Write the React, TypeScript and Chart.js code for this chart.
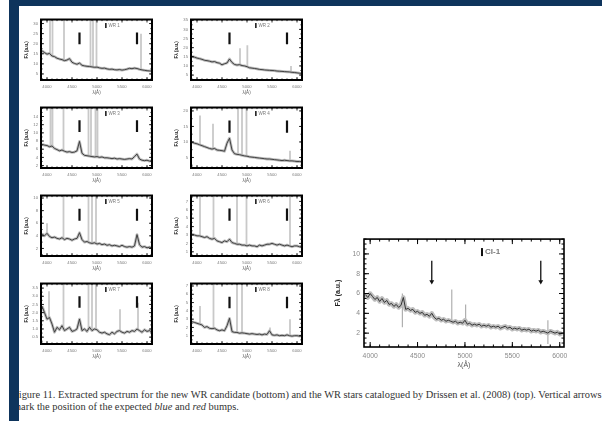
import React, { useEffect, useRef } from "react";
import { Chart, registerables } from "chart.js";

Chart.register(...registerables);

// ---------- shared axes ----------
const WL_SMALL = [3900, 3950, 4000, 4050, 4100, 4150, 4200, 4250, 4300, 4350, 4400, 4450, 4500, 4550, 4600, 4650, 4700, 4750, 4800, 4850, 4900, 4950, 5000, 5050, 5100, 5150, 5200, 5250, 5300, 5350, 5400, 5450, 5500, 5550, 5600, 5650, 5700, 5750, 5800, 5850, 5900, 5950, 6000, 6050, 6100];
const X_TICKS = [4000, 4500, 5000, 5500, 6000];
const SMALL_X_RANGE = [3880, 6100];
const ARROW_WL = [4650, 5800];

// ---------- panel 1 ----------
const P1_FLUX = [16.5, 15.6, 14.8, 15.2, 13.9, 13.6, 12.8, 12.4, 12.1, 11.6, 11.9, 12.6, 10.8, 10.2, 9.8, 10.4, 9.3, 9.0, 8.8, 8.7, 8.5, 8.3, 8.4, 8.0, 7.8, 7.9, 7.5, 7.3, 7.4, 7.1, 7.0, 7.2, 6.9, 7.1, 7.4, 7.8, 7.6, 7.9, 7.7, 7.3, 7.0, 6.8, 6.6, 6.5, 6.4];
const P1_Y_RANGE = [2, 32];
const P1_Y_TICKS = [5, 10, 15, 20, 25, 30];
const P1_SKY = [4060, 4110, 4340, 4870, 4920, 4990, 5880];
const P1_SKY_TOP = [32, 32, 32, 32, 32, 32, 25];
const P1_ARROW = [25.6, 19.7];

// ---------- panel 2 ----------
const P2_FLUX = [15.2, 14.8, 14.3, 14.0, 13.6, 13.1, 12.9, 12.6, 12.2, 12.4, 11.8, 11.5, 10.6, 11.2, 11.6, 13.8, 11.9, 10.8, 10.5, 10.7, 10.2, 10.0, 9.6, 9.0, 8.8, 8.6, 8.4, 8.1, 8.0, 7.8, 7.7, 7.6, 7.5, 7.4, 7.2, 7.1, 7.0, 6.9, 6.8, 6.7, 6.5, 6.4, 6.2, 6.0, 5.9];
const P2_Y_RANGE = [2.3, 35.4];
const P2_Y_TICKS = [5, 10, 15, 20, 25, 30, 35];
const P2_SKY = [4860, 5007, 5880];
const P2_SKY_TOP = [19.7, 21.3, 10];
const P2_ARROW = [28.3, 21.8];

// ---------- panel 3 ----------
const P3_FLUX = [7.2, 7.0, 6.9, 6.6, 6.8, 6.2, 5.9, 5.6, 5.8, 5.5, 5.3, 5.4, 5.2, 5.3, 5.6, 7.9, 5.0, 4.5, 4.4, 4.3, 4.2, 4.1, 4.2, 4.0, 4.1, 3.9, 3.9, 3.8, 3.7, 3.8, 3.6, 3.7, 3.6, 3.5, 3.6, 3.7, 3.6, 4.2, 4.8, 3.6, 3.3, 3.2, 3.3, 3.1, 3.2];
const P3_Y_RANGE = [1.4, 16.2];
const P3_Y_TICKS = [2, 4, 6, 8, 10, 12, 14];
const P3_SKY = [4070, 4110, 4330, 4830, 4880, 4970, 5010];
const P3_SKY_TOP = [16.2, 16.2, 16.2, 16.2, 16.2, 16.2, 16.2];
const P3_ARROW = [13.1, 10.2];

// ---------- panel 4 ----------
const P4_FLUX = [9.9, 9.6, 9.4, 9.1, 8.8, 8.5, 8.2, 7.9, 7.7, 7.9, 7.4, 7.3, 7.2, 7.0, 9.6, 11.2, 7.4, 6.2, 6.0, 5.9, 5.7, 5.5, 5.4, 5.2, 5.1, 5.0, 4.9, 4.8, 4.7, 4.6, 4.5, 4.5, 4.4, 4.3, 4.2, 4.1, 4.0, 4.1, 4.0, 3.9, 3.9, 3.8, 3.7, 3.7, 3.6];
const P4_Y_RANGE = [1.6, 21.1];
const P4_Y_TICKS = [5, 10, 15, 20];
const P4_SKY = [4060, 4320, 4820, 4900, 4990, 5860];
const P4_SKY_TOP = [18.5, 15.9, 21.1, 21.1, 21.1, 7.2];
const P4_ARROW = [16.9, 13.0];

// ---------- panel 5 ----------
const P5_FLUX = [4.3, 4.0, 4.4, 3.9, 3.7, 3.8, 3.6, 3.5, 3.7, 3.4, 3.6, 3.5, 3.3, 3.5, 3.6, 4.5, 3.4, 3.0, 3.1, 2.9, 2.8, 2.9, 2.7, 2.8, 2.6, 2.7, 2.5, 2.6, 2.4, 2.5, 2.4, 2.3, 2.5, 2.3, 2.2, 2.3, 2.2, 2.4, 4.2, 2.6, 2.2, 2.3, 2.1, 2.2, 2.1];
const P5_Y_RANGE = [0.8, 10.4];
const P5_Y_TICKS = [2, 4, 6, 8, 10];
const P5_SKY = [4000, 4330, 4830, 4900, 4980];
const P5_SKY_TOP = [6, 10.4, 10.4, 10.4, 10.4];
const P5_ARROW = [8.3, 6.4];

// ---------- panel 6 ----------
const P6_FLUX = [3.1, 3.0, 2.9, 2.9, 2.8, 2.7, 2.8, 2.6, 2.5, 2.6, 2.3, 2.2, 2.1, 2.3, 2.2, 2.5, 2.1, 2.0, 1.9, 1.9, 1.8, 1.8, 1.7, 1.8, 1.7, 1.7, 1.6, 1.8, 1.7, 1.8, 1.9, 1.9, 2.0, 1.9, 1.8, 1.9, 1.8, 1.7, 1.8, 1.7, 1.6, 1.7, 1.7, 1.6, 1.7];
const P6_Y_RANGE = [0.5, 7.7];
const P6_Y_TICKS = [1, 2, 3, 4, 5, 6, 7];
const P6_SKY = [4060, 4330, 4800, 4990, 5860];
const P6_SKY_TOP = [7.7, 7.7, 7.7, 7.7, 7.7];
const P6_ARROW = [6.15, 4.7];

// ---------- panel 7 ----------
const P7_FLUX = [2.4, 2.0, 1.6, 1.7, 1.3, 0.8, 1.1, 0.95, 1.2, 0.9, 1.0, 1.1, 0.85, 0.9, 1.0, 1.6, 0.9, 1.0, 0.85, 1.1, 0.9, 1.0, 0.95, 0.8, 0.75, 0.8, 0.7, 0.65, 0.8, 0.7, 0.85, 0.9, 0.8, 0.75, 0.85, 0.8, 0.9, 0.85, 1.0, 0.9, 0.8, 0.95, 0.85, 0.9, 0.8];
const P7_Y_RANGE = [0.08, 3.78];
const P7_Y_TICKS = [0.5, 1.0, 1.5, 2.0, 2.5, 3.0, 3.5];
const P7_SKY = [4040, 4330, 4830, 4900, 4980, 5460, 5820];
const P7_SKY_TOP = [3.3, 3.78, 3.78, 3.78, 3.78, 2.2, 2.6];
const P7_ARROW = [3.0, 2.3];

// ---------- panel 8 ----------
const P8_FLUX = [2.7, 2.6, 2.5, 2.4, 2.3, 2.0, 2.1, 1.9, 1.85, 1.9, 1.7, 1.6, 1.7, 1.6, 2.2, 3.1, 1.5, 1.4, 1.4, 1.3, 1.35, 1.3, 1.25, 1.2, 1.25, 1.2, 1.15, 1.2, 1.1, 1.2, 1.15, 1.6, 1.1, 1.05, 1.1, 1.0, 1.05, 1.0, 1.1, 1.0, 0.95, 1.0, 1.0, 0.95, 1.0];
const P8_Y_RANGE = [0, 7.3];
const P8_Y_TICKS = [1, 2, 3, 4, 5, 6, 7];
const P8_SKY = [4060, 4330, 4800, 4900, 5460, 5860];
const P8_SKY_TOP = [4.6, 7.3, 7.3, 7.3, 2.0, 3.0];
const P8_ARROW = [5.7, 4.3];

// ---------- big panel (new candidate) ----------
const WL_BIG = [3950, 3975, 4000, 4025, 4050, 4075, 4100, 4125, 4150, 4175, 4200, 4225, 4250, 4275, 4300, 4325, 4350, 4375, 4400, 4425, 4450, 4475, 4500, 4525, 4550, 4575, 4600, 4625, 4650, 4675, 4700, 4725, 4750, 4775, 4800, 4825, 4850, 4875, 4900, 4925, 4950, 4975, 5000, 5025, 5050, 5075, 5100, 5125, 5150, 5175, 5200, 5225, 5250, 5275, 5300, 5325, 5350, 5375, 5400, 5425, 5450, 5475, 5500, 5525, 5550, 5575, 5600, 5625, 5650, 5675, 5700, 5725, 5750, 5775, 5800, 5825, 5850, 5875, 5900, 5925, 5950, 5975, 6000, 6025];
const BIG_FLUX = [5.9, 5.6, 6.0, 5.7, 5.4, 5.6, 5.2, 5.5, 5.1, 5.3, 4.9, 5.0, 4.7, 4.9, 4.6, 4.8, 5.6, 4.4, 4.5, 4.3, 4.4, 4.1, 4.2, 4.0, 4.1, 3.8, 3.9, 3.7, 4.0, 3.6, 3.4, 3.5, 3.3, 3.4, 3.2, 3.3, 3.2, 3.1, 3.2, 3.0, 3.1, 3.0, 3.3, 2.9, 3.0, 2.8, 2.9, 2.8, 2.9, 2.7, 2.8, 2.7, 2.8, 2.6, 2.7, 2.6, 2.7, 2.5, 2.6, 2.7, 2.5, 2.6, 2.4, 2.5, 2.4, 2.5, 2.3, 2.4, 2.3, 2.4, 2.2, 2.3, 2.2, 2.3, 2.1, 2.2, 2.1, 2.0, 2.2, 2.1, 2.0, 2.1, 1.9, 2.0];
const BIG_X_RANGE = [3935, 6045];
const BIG_Y_RANGE = [0.6, 11.5];
const BIG_Y_TICKS = [2, 4, 6, 8, 10];
const BIG_LINE_WL = [4340, 4861, 5007, 5875];
const BIG_LINE_LO = [2.6, 3.0, 3.0, 0.9];
const BIG_LINE_HI = [6.0, 6.4, 4.9, 3.3];
const BIG_ARROW = [9.3, 7.2];

const CAPTION_1 = "Figure 11. Extracted spectrum for the new WR candidate (bottom) and the WR stars catalogued by Drissen et al. (2008) (top). Vertical arrows";
const CAPTION_2A = "mark the position of the expected ";

// ---------- layout ----------
const COL_X = [41, 191];
const ROW_Y = [19, 107, 195, 283];

type Spec = {
  big: boolean;
  label: string;
  wl: number[];
  flux: number[];
  xRange: number[];
  yRange: number[];
  yTicks: number[];
  lineWl: number[];
  lineLo: number[] | null;
  lineHi: number[];
  arrow: number[];
  yDecimals: number;
  minorY: number;
  cx: number; cy: number; cw: number; ch: number;
  yAxisW: number; xAxisH: number; padTop: number; padRight: number;
};

const SMALL = { yAxisW: 17, xAxisH: 15, padTop: 5, padRight: 5, plotW: 111, plotH: 61 };

function small(label: string, col: number, row: number, flux: number[], yRange: number[], yTicks: number[], sky: number[], skyTop: number[], arrow: number[], yDecimals = 0): Spec {
  const step = yTicks[1] - yTicks[0];
  return {
    big: false, label, wl: WL_SMALL, flux, xRange: SMALL_X_RANGE, yRange, yTicks,
    lineWl: sky, lineLo: null, lineHi: skyTop, arrow, yDecimals, minorY: step / 2,
    cx: COL_X[col] - SMALL.yAxisW, cy: ROW_Y[row] - SMALL.padTop,
    cw: SMALL.yAxisW + SMALL.plotW + SMALL.padRight, ch: SMALL.padTop + SMALL.plotH + SMALL.xAxisH,
    yAxisW: SMALL.yAxisW, xAxisH: SMALL.xAxisH, padTop: SMALL.padTop, padRight: SMALL.padRight,
  };
}

const SPECS: Spec[] = [
  small("WR 1", 0, 0, P1_FLUX, P1_Y_RANGE, P1_Y_TICKS, P1_SKY, P1_SKY_TOP, P1_ARROW),
  small("WR 2", 1, 0, P2_FLUX, P2_Y_RANGE, P2_Y_TICKS, P2_SKY, P2_SKY_TOP, P2_ARROW),
  small("WR 3", 0, 1, P3_FLUX, P3_Y_RANGE, P3_Y_TICKS, P3_SKY, P3_SKY_TOP, P3_ARROW),
  small("WR 4", 1, 1, P4_FLUX, P4_Y_RANGE, P4_Y_TICKS, P4_SKY, P4_SKY_TOP, P4_ARROW),
  small("WR 5", 0, 2, P5_FLUX, P5_Y_RANGE, P5_Y_TICKS, P5_SKY, P5_SKY_TOP, P5_ARROW),
  small("WR 6", 1, 2, P6_FLUX, P6_Y_RANGE, P6_Y_TICKS, P6_SKY, P6_SKY_TOP, P6_ARROW),
  small("WR 7", 0, 3, P7_FLUX, P7_Y_RANGE, P7_Y_TICKS, P7_SKY, P7_SKY_TOP, P7_ARROW, 1),
  small("WR 8", 1, 3, P8_FLUX, P8_Y_RANGE, P8_Y_TICKS, P8_SKY, P8_SKY_TOP, P8_ARROW),
  {
    big: true, label: "CI-1", wl: WL_BIG, flux: BIG_FLUX, xRange: BIG_X_RANGE, yRange: BIG_Y_RANGE, yTicks: BIG_Y_TICKS,
    lineWl: BIG_LINE_WL, lineLo: BIG_LINE_LO, lineHi: BIG_LINE_HI, arrow: BIG_ARROW, yDecimals: 0, minorY: 0.5,
    cx: 364 - 30, cy: 239 - 8, cw: 30 + 200 + 9, ch: 8 + 108 + 22,
    yAxisW: 30, xAxisH: 22, padTop: 8, padRight: 9,
  },
];

const framePlugin = {
  id: "frame",
  afterDraw(chart: any, _args: any, o: any) {
    const { ctx, chartArea: a } = chart;
    const xs = chart.scales.x;
    const ys = chart.scales.y;
    ctx.save();
    ctx.strokeStyle = "#000";
    ctx.lineWidth = o.tickW;
    ctx.beginPath();
    const xt = (v: number, len: number) => {
      const p = xs.getPixelForValue(v);
      ctx.moveTo(p, a.bottom); ctx.lineTo(p, a.bottom - len);
      ctx.moveTo(p, a.top); ctx.lineTo(p, a.top + len);
    };
    const yt = (v: number, len: number) => {
      const p = ys.getPixelForValue(v);
      ctx.moveTo(a.left, p); ctx.lineTo(a.left + len, p);
      ctx.moveTo(a.right, p); ctx.lineTo(a.right - len, p);
    };
    for (let v = Math.ceil(xs.min / o.minorX) * o.minorX; v <= xs.max; v += o.minorX) xt(v, o.minorLen);
    for (let v = Math.ceil(ys.min / o.minorY) * o.minorY; v <= ys.max + 1e-9; v += o.minorY) yt(v, o.minorLen);
    xs.ticks.forEach((t: any) => xt(t.value, o.majorLen));
    ys.ticks.forEach((t: any) => yt(t.value, o.majorLen));
    ctx.stroke();
    ctx.lineWidth = o.frameW;
    ctx.strokeRect(a.left, a.top, a.width, a.height);
    if (o.label) {
      ctx.font = o.labelFont;
      ctx.textBaseline = "middle";
      const lx = a.left + a.width * o.labelX;
      const ly = a.top + o.labelDy;
      ctx.fillStyle = "#111";
      ctx.fillRect(lx - o.markW - 1, ly - o.markH / 2, o.markW, o.markH);
      ctx.fillStyle = "#777";
      ctx.fillText(o.label, lx + 1, ly);
    }
    ctx.restore();
  },
};

function nearestFlux(wl: number[], flux: number[], w: number) {
  let bi = 0;
  wl.forEach((v, i) => { if (Math.abs(v - w) < Math.abs(wl[bi] - w)) bi = i; });
  return flux[bi];
}

function makeConfig(s: Spec): any {
  const big = s.big;
  const specPts = s.wl.map((w, i) => ({ x: w, y: s.flux[i] }));
  const linePts: any[] = [];
  s.lineWl.forEach((w, i) => {
    const lo = s.lineLo ? s.lineLo[i] : nearestFlux(s.wl, s.flux, w);
    linePts.push({ x: w, y: lo }, { x: w, y: s.lineHi[i] }, { x: w, y: null });
  });
  const arrowPts: any[] = [];
  ARROW_WL.forEach((w) => arrowPts.push({ x: w, y: s.arrow[0] }, { x: w, y: s.arrow[1] }, { x: w, y: null }));

  const datasets: any[] = [
    { label: "arrows", data: arrowPts, borderColor: "#111", borderWidth: big ? 1.3 : 2.2, pointRadius: 0, order: 0, spanGaps: false },
    { label: "spectrum", data: specPts, borderColor: "#333", borderWidth: big ? 1 : 0.9, pointRadius: 0, order: 1, borderJoinStyle: "round" },
    { label: "noise", data: specPts, borderColor: "#bdbdbd", borderWidth: big ? 4.5 : 2.8, pointRadius: 0, order: 2, borderJoinStyle: "round" },
    { label: "lines", data: linePts, borderColor: big ? "#b0b0b0" : "#c9c9c9", borderWidth: big ? 1.2 : 1.8, pointRadius: 0, order: 3, spanGaps: false },
  ];
  if (big) {
    datasets.push({
      label: "heads", data: ARROW_WL.map((w) => ({ x: w, y: s.arrow[1] })), showLine: false,
      pointStyle: "triangle", rotation: 180, pointRadius: 2.8, backgroundColor: "#111", borderColor: "#111", borderWidth: 0, order: 0,
    });
  }

  const tickFont = big ? { family: "Liberation Sans", size: 6.8 } : { family: "Liberation Sans", size: 4.2 };
  const tickColor = big ? "#8a8a8a" : "#7a7a7a";
  return {
    type: "line",
    data: { datasets },
    plugins: [framePlugin],
    options: {
      animation: false,
      responsive: false,
      devicePixelRatio: 1,
      events: [],
      layout: { padding: { top: s.padTop, right: s.padRight, left: 0, bottom: 0 } },
      plugins: {
        legend: { display: false },
        tooltip: { enabled: false },
        frame: {
          tickW: big ? 1 : 0.8,
          frameW: big ? 1.6 : 2,
          majorLen: big ? 5 : 3,
          minorLen: big ? 2.5 : 1.6,
          minorX: 100,
          minorY: s.minorY,
          label: s.label,
          labelX: 0.6,
          labelDy: big ? 13 : 6,
          labelFont: big ? "bold 8px 'Liberation Sans'" : "4.5px 'Liberation Sans'",
          markW: big ? 2 : 1.5,
          markH: big ? 8 : 5,
        },
      },
      scales: {
        x: {
          type: "linear",
          min: s.xRange[0],
          max: s.xRange[1],
          afterBuildTicks: (sc: any) => { sc.ticks = X_TICKS.map((v) => ({ value: v })); },
          afterFit: (sc: any) => { sc.height = s.xAxisH; },
          grid: { display: false, drawTicks: false },
          border: { display: false },
          ticks: { font: tickFont, color: tickColor, padding: big ? 5 : 4, maxRotation: 0, autoSkip: false, callback: (v: any) => String(v) },
          title: { display: true, text: "\u03bb(\u00c5)", color: "#555", font: { family: "Liberation Sans", size: big ? 7 : 4.5 }, padding: 0 },
        },
        y: {
          type: "linear",
          min: s.yRange[0],
          max: s.yRange[1],
          afterBuildTicks: (sc: any) => { sc.ticks = s.yTicks.map((v) => ({ value: v })); },
          afterFit: (sc: any) => { sc.width = s.yAxisW; },
          grid: { display: false, drawTicks: false },
          border: { display: false },
          ticks: { font: tickFont, color: tickColor, padding: big ? 4 : 3, autoSkip: false, callback: (v: any) => Number(v).toFixed(s.yDecimals) },
          title: { display: true, text: "F\u03bb (a.u.)", color: "#222", font: { family: "Liberation Sans", size: big ? 7 : 4.5, weight: "bold" }, padding: 0 },
        },
      },
    },
  };
}

function SpectrumChart({ spec }: { spec: Spec }) {
  const ref = useRef<HTMLCanvasElement>(null);
  useEffect(() => {
    const chart = new Chart(ref.current as HTMLCanvasElement, makeConfig(spec));
    return () => chart.destroy();
  }, [spec]);
  return (
    <canvas
      ref={ref}
      width={spec.cw}
      height={spec.ch}
      style={{ position: "absolute", left: spec.cx, top: spec.cy, width: spec.cw, height: spec.ch }}
    />
  );
}

export default function App() {
  return (
    <div style={{ position: "fixed", left: 0, top: 0, width: 602, height: 421, background: "#fff", overflow: "hidden", filter: "blur(0.45px)" }}>
      {SPECS.map((s, i) => <SpectrumChart key={i} spec={s} />)}
      <div style={{ position: "absolute", left: 13, top: 389, fontFamily: "'Liberation Serif', serif", fontSize: 10.4, lineHeight: "12px", color: "#333", whiteSpace: "nowrap" }}>
        <div>{CAPTION_1}</div>
        <div>{CAPTION_2A}<i>blue</i> and <i>red</i> bumps.</div>
      </div>
      <div style={{ position: "absolute", left: 9, top: 0, width: 10, height: 421, background: "#0e345c" }} />
      <div style={{ position: "absolute", left: 9, top: 0, width: 593, height: 6, background: "#0e345c" }} />
    </div>
  );
}
